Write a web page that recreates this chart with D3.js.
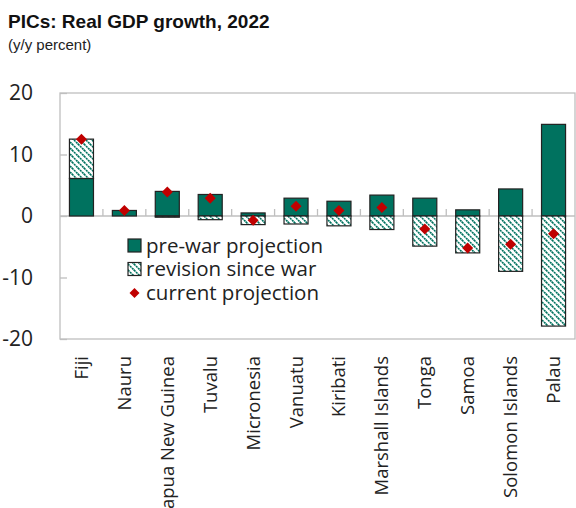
<!DOCTYPE html>
<html><head><meta charset="utf-8">
<script src="https://cdn.jsdelivr.net/npm/d3@7"></script>
<style>
body{margin:0;background:#fff;}
svg{display:block;}
</style></head>
<body>
<svg id="c" width="576" height="508"></svg>
<script>
const categories = ["Fiji","Nauru","Papua New Guinea","Tuvalu","Micronesia","Vanuatu","Kiribati","Marshall Islands","Tonga","Samoa","Solomon Islands","Palau"];
const preWar   = [6.1, 0.9, 4.0, 3.5, 0.5, 2.9, 2.4, 3.4, 2.9, 1.0, 4.4, 14.9];
const revision = [6.4, 0.0, -0.2, -0.6, -1.4, -1.3, -1.6, -2.2, -4.9, -6.0, -9.0, -17.9];
const current  = [12.5, 0.9, 3.9, 2.9, -0.7, 1.6, 0.9, 1.4, -2.1, -5.2, -4.6, -2.9];
const yTicks = [-20, -10, 0, 10, 20];
const legendLabels = ["pre-war projection", "revision since war", "current projection"];

const teal = "#00725f", red = "#c00000", grid = "#bfbfbf";
const svg = d3.select("#c");
const L = 60, R = 575, T = 93, B = 339;

const x = d3.scaleBand().domain(categories).range([L, R]).paddingInner(0.44).paddingOuter(0.22);
const y = d3.scaleLinear().domain([-20, 20]).range([B, T]);

// pattern
const defs = svg.append("defs");
const pat = defs.append("pattern").attr("id","hatch").attr("patternUnits","userSpaceOnUse")
  .attr("width",6).attr("height",6);
pat.append("rect").attr("width",6).attr("height",6).attr("fill","#fff");
pat.append("path").attr("d","M0,0 L6,6").attr("stroke",teal).attr("stroke-width",1.6).attr("stroke-dasharray","2.1,0.73");
pat.append("path").attr("d","M-3,3 L3,9 M3,-3 L9,3").attr("stroke",teal).attr("stroke-width",1.6).attr("stroke-dasharray","2.1,0.73");

// title
svg.append("text").attr("x",8).attr("y",28).text("PICs: Real GDP growth, 2022")
  .attr("font-family","Liberation Sans, Arial, sans-serif").attr("font-weight","bold").attr("font-size",19).attr("fill","#111");
svg.append("text").attr("x",8).attr("y",50).text("(y/y percent)")
  .attr("font-family","Liberation Sans, Arial, sans-serif").attr("font-size",15).attr("fill","#222");

// plot frame
svg.append("rect").attr("x",L).attr("y",T).attr("width",R-L).attr("height",B-T)
  .attr("fill","#fff").attr("stroke",grid).attr("stroke-width",1.3);

// y axis
const yAxis = d3.axisLeft(y).tickValues(yTicks).tickSizeInner(-7).tickSizeOuter(0).tickPadding(27)
  .tickFormat(d => String(d));
const ga = svg.append("g").attr("transform",`translate(${L},0)`).call(yAxis);
ga.select(".domain").remove();
ga.selectAll("line").attr("stroke",grid).attr("stroke-width",1.3);
ga.selectAll("text").attr("font-family","Open Sans, sans-serif").attr("font-size",21).attr("fill","#222");

// zero line
svg.append("line").attr("x1",L).attr("x2",R).attr("y1",y(0)).attr("y2",y(0)).attr("stroke",grid).attr("stroke-width",1.3);
// category boundary ticks
svg.append("g").selectAll("line").data(categories.slice(0,-1)).join("line")
  .attr("x1",d => x(d) + x.bandwidth()/2 + x.step()/2)
  .attr("x2",d => x(d) + x.bandwidth()/2 + x.step()/2)
  .attr("y1",y(0)).attr("y2",y(0)-7).attr("stroke",grid).attr("stroke-width",1.3);

// bars
const data = categories.map((c,i) => ({c, pre: preWar[i], rev: revision[i], cur: current[i]}));
const g = svg.append("g");
data.forEach(d => {
  const p0 = y(Math.max(0,d.pre)), p1 = y(Math.min(0,d.pre));
  g.append("rect").attr("x",x(d.c)).attr("width",x.bandwidth()).attr("y",p0).attr("height",p1-p0)
    .attr("fill",teal).attr("stroke","#222").attr("stroke-width",1.2);
  if (d.rev !== 0) {
    let a, b;
    if (d.rev > 0) { a = d.pre > 0 ? d.pre : 0; b = a + d.rev; }
    else { a = d.pre < 0 ? d.pre : 0; b = a + d.rev; }
    const r0 = y(Math.max(a,b)), r1 = y(Math.min(a,b));
    g.append("rect").attr("x",x(d.c)).attr("width",x.bandwidth()).attr("y",r0).attr("height",r1-r0)
      .attr("fill","url(#hatch)").attr("stroke","#222").attr("stroke-width",1.2);
  }
});
// current projection diamonds
svg.append("g").selectAll("path").data(data).join("path")
  .attr("transform",d => `translate(${x(d.c)+x.bandwidth()/2},${y(d.cur)})`)
  .attr("d","M0,-5.5 L5.5,0 L0,5.5 L-5.5,0 Z").attr("fill",red);

// category labels
svg.append("g").selectAll("text").data(categories).join("text")
  .attr("transform",d => `translate(${x(d)+x.bandwidth()/2+6.5},356) rotate(-90)`)
  .attr("text-anchor","end").text(d => d)
  .attr("font-family","Open Sans, sans-serif").attr("font-size",18.5).attr("fill","#222");

// legend
const lg = svg.append("g").attr("transform","translate(128,0)");
const ly = [245.5, 269, 293];
lg.append("rect").attr("x",0).attr("y",ly[0]-6.5).attr("width",13).attr("height",13).attr("fill",teal).attr("stroke","#222").attr("stroke-width",1.2);
lg.append("rect").attr("x",0).attr("y",ly[1]-6.5).attr("width",13).attr("height",13).attr("fill","url(#hatch)").attr("stroke","#222").attr("stroke-width",1.2);
lg.append("path").attr("transform",`translate(6.5,${ly[2]})`).attr("d","M0,-5 L5,0 L0,5 L-5,0 Z").attr("fill",red);
lg.selectAll("text.l").data(legendLabels).join("text").attr("class","l")
  .attr("x",18).attr("y",(d,i)=>ly[i]).attr("dy","0.35em").text(d=>d)
  .attr("font-family","Open Sans, sans-serif").attr("font-size",20.5).attr("fill","#222");
</script>
</body></html>
